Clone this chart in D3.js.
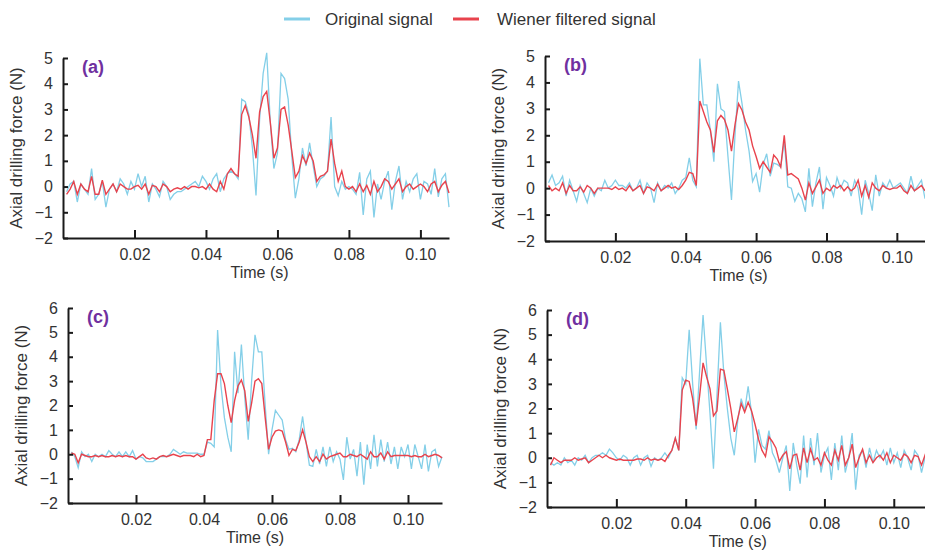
<!DOCTYPE html>
<html>
<head>
<meta charset="utf-8">
<script src="https://cdn.jsdelivr.net/npm/d3@7"></script>
<style>
  body { margin: 0; background: #fff; }
  svg { display: block; font-family: "Liberation Sans", Arial, sans-serif; }
  .axis path, .axis line { stroke: #1a1a1a; }
  .axis text { fill: #333; font-size: 16px; }
</style>
</head>
<body>
<svg id="chart" width="925" height="551"></svg>
<script>
// samples every 1 ms, first sample at 1 ms
var timeStep = 0.001;

var xTicks = [0.02, 0.04, 0.06, 0.08, 0.10];
var yTicksAB = [-2, -1, 0, 1, 2, 3, 4, 5];
var yTicksCD = [-2, -1, 0, 1, 2, 3, 4, 5, 6];
var panelLabels = ['(a)', '(b)', '(c)', '(d)'];
var legendLabels = ['Original signal', 'Wiener filtered signal'];

var originalA = [-0.2, 0.1, 0.2, -0.6, 0.1, -0.1, -0.3, 0.7, -0.5, -0.3,
    0.2, -0.8, -0.1, 0.1, -0.2, 0.3, 0.1, -0.3, 0.2, -0.1,
    0.5, 0.0, 0.4, -0.6, 0.1, -0.1, -0.4, 0.2, 0.0, -0.5,
    -0.3, -0.2, -0.2, -0.1, 0.0, 0.1, 0.2, 0.0, 0.4, 0.2,
    -0.1, 0.3, 0.5, -0.2, 0.3, 0.5, 0.6, 0.5, 0.3, 3.4,
    3.3, 2.8, 1.5, -0.35, 2.6, 4.4, 5.2, 2.5, 0.7, 1.3,
    4.4, 4.2, 3.4, 1.2, -0.45, 0.3, 1.5, 0.8, 1.7, 0.8,
    0.0, 0.3, 0.4, 0.6, 2.7, 0.0, -0.35, 0.2, -0.1, 0.0,
    -0.1, -0.3, 0.55, -1.1, 0.3, 0.6, -1.2, 0.1, -0.5, 0.2,
    0.6, -0.9, 0.2, 0.8, -0.5, 0.2, -0.2, 0.3, 0.5, -0.5,
    0.2, 0.1, -0.3, 0.7, -0.4, 0.3, 0.5, -0.8];
var filteredA = [-0.3, -0.1, 0.2, -0.3, 0.1, -0.1, -0.2, 0.4, -0.3, -0.3,
    0.25, -0.3, -0.1, 0.1, -0.2, 0.1, 0.0, -0.1, -0.1, 0.0,
    0.05, -0.1, 0.1, -0.3, 0.05, 0.0, -0.2, 0.1, 0.0, -0.2,
    -0.1, -0.05, -0.1, 0.0, -0.1, 0.0, 0.0, -0.05, 0.0, -0.1,
    0.1, -0.1, -0.2, 0.2, -0.1, 0.5, 0.7, 0.5, 0.4, 2.8,
    3.15, 2.7, 2.0, 1.1, 2.9, 3.5, 3.7, 2.5, 1.1, 1.5,
    3.0, 3.1, 2.4, 1.4, 0.35, 0.6, 1.2, 0.9, 1.3, 1.0,
    0.2, 0.4, 0.45, 0.6, 1.85, 0.9, 0.2, 0.6, 0.0, -0.1,
    0.0, -0.2, 0.1, -0.2, 0.05, -0.3, 0.2, -0.2, 0.0, 0.3,
    0.2, -0.1, 0.1, 0.3, -0.2, 0.0, 0.1, -0.1, 0.0, 0.1,
    0.0, -0.2, 0.1, 0.2, -0.2, 0.05, 0.2, -0.25];

var originalB = [0.2, 0.5, 0.1, 0.2, 0.45, -0.3, 0.3, -0.1, -0.5, 0.1,
    -0.2, -0.55, 0.0, -0.3, 0.0, -0.1, 0.3, 0.0, 0.1, 0.3,
    0.1, 0.1, 0.0, 0.2, -0.1, 0.0, 0.3, -0.2, 0.2, 0.0,
    -0.55, 0.2, -0.1, 0.1, 0.0, 0.2, -0.2, 0.0, 0.3, 0.4,
    1.15, 0.3, 0.05, 4.9, 3.15, 3.15, 2.2, 1.0, 3.95, 3.0,
    2.9, 1.2, -0.45, 2.0, 4.05, 3.2, 2.2, 1.4, 0.25, 0.55,
    -0.15, 0.9, 1.3, 0.45, 0.95, 0.9, 0.8, 1.8, 0.05, 0.0,
    -0.5, -0.2, -0.4, -0.9, 0.75, -0.7, 0.2, 0.8, -0.8, 0.4,
    0.1, -0.3, 0.4, 0.0, 0.3, 0.2, -0.3, 0.3, 0.0, -1.0,
    0.3, -0.2, -0.85, 0.5, -0.3, 0.2, 0.0, 0.3, 0.0, 0.1,
    0.2, 0.0, -0.2, 0.45, -0.1, 0.1, 0.3, -0.4];
var filteredB = [0.1, -0.1, 0.0, -0.1, 0.2, -0.2, 0.1, -0.1, -0.1, 0.05,
    -0.15, 0.1, 0.0, -0.2, 0.0, 0.0, 0.0, 0.0, -0.05, 0.05,
    -0.05, 0.0, -0.1, 0.1, -0.1, 0.0, 0.1, -0.2, 0.05, 0.0,
    -0.1, 0.15, -0.1, 0.0, 0.1, 0.0, 0.05, -0.05, 0.1, 0.3,
    0.6, 0.55, 0.1, 3.3, 2.9, 2.5, 2.2, 1.35, 2.55, 2.75,
    2.6, 2.2, 1.4, 2.4, 3.2, 2.95, 2.5, 2.2, 1.6, 1.2,
    0.75, 1.0, 0.8, 0.6, 1.25, 1.1, 0.8, 2.0, 0.5, 0.55,
    0.45, 0.35, 0.0, -0.45, 0.2, -0.2, 0.05, 0.3, -0.2, 0.0,
    -0.1, 0.1, 0.0, 0.1, -0.1, 0.05, -0.1, 0.0, 0.3, -0.3,
    0.1, -0.35, 0.2, 0.0, -0.1, 0.1, 0.0, -0.05, 0.0, 0.0,
    0.1, -0.1, -0.2, 0.1, -0.1, 0.0, 0.1, -0.1];

var originalC = [0.1, -0.1, -0.55, 0.1, -0.1, 0.0, -0.3, 0.0, -0.1, 0.0,
    -0.1, 0.15, 0.0, -0.1, 0.1, -0.1, 0.1, -0.1, 0.15, -0.2,
    -0.1, -0.15, -0.3, -0.3, -0.3, -0.2, -0.1, -0.1, -0.1, 0.0,
    0.2, 0.1, 0.0, 0.1, 0.05, 0.05, 0.05, 0.05, 0.0, 0.0,
    0.5, 0.45, 0.3, 5.1, 2.8, 1.5, 0.7, 0.1, 4.2, 2.5,
    4.5, 2.3, 0.6, 3.0, 4.9, 4.2, 4.2, 2.0, 0.0, 1.0,
    1.8, 1.6, 1.4, 0.6, 0.2, 0.25, 0.1, 0.6, 1.55, 0.5,
    -0.45, -0.5, 0.2, -0.4, 0.3, -0.5, 0.3, -0.3, 0.1, -0.2,
    -1.05, 0.7, -0.2, 0.2, -0.9, 0.5, -1.25, 0.4, -0.6, 0.8,
    -0.5, 0.6, -0.3, 0.5, -0.4, 0.3, -0.6, 0.3, -0.1, 0.4,
    -0.6, 0.4, -0.1, -0.6, 0.4, -0.7, 0.1, 0.2, -0.5, -0.1];
var filteredC = [0.05, 0.0, -0.35, 0.0, -0.05, -0.1, -0.1, -0.05, -0.1, -0.05,
    -0.1, -0.1, -0.05, -0.1, -0.05, -0.1, -0.05, -0.1, -0.1, -0.2,
    -0.1, 0.0, -0.15, -0.2, -0.15, -0.2, -0.1, -0.05, -0.1, -0.05,
    0.0, -0.05, -0.1, -0.05, -0.05, -0.05, -0.1, 0.0, -0.1, -0.05,
    0.6, 0.6, 2.2, 3.3, 3.3, 2.9, 2.0, 1.3, 2.2, 2.8,
    3.05, 2.6, 1.35, 2.1, 3.0, 3.1, 2.9, 1.5, 0.2, 0.7,
    0.95, 1.0, 0.95, 0.5, -0.05, 0.2, 0.15, 0.5, 1.0, 0.5,
    -0.1, -0.3, -0.1, -0.3, 0.0, -0.2, -0.1, -0.05, 0.0, 0.05,
    -0.1, -0.1, 0.0, -0.05, -0.1, 0.0, -0.1, -0.2, 0.1, -0.1,
    -0.1, 0.05, -0.2, 0.1, -0.1, -0.05, -0.05, -0.05, -0.05, -0.05,
    -0.1, -0.05, -0.1, -0.1, 0.0, -0.1, -0.05, 0.0, -0.05, -0.15];

var originalD = [-0.2, -0.3, -0.2, -0.3, 0.0, -0.2, -0.1, -0.3, 0.0, -0.1,
    0.1, -0.2, 0.0, 0.1, 0.1, 0.2, 0.1, 0.35, 0.2, 0.0,
    -0.1, 0.1, 0.0, -0.3, 0.0, 0.1, -0.3, 0.0, 0.1, -0.35,
    0.0, -0.1, 0.0, 0.2, 0.0, 0.3, 0.8, 0.3, 3.25, 3.0,
    5.2, 3.0, 1.15, 3.5, 5.8, 3.8, 1.8, -0.45, 2.5, 5.5,
    3.4, 2.0, 0.8, 0.1, 1.5, 2.4, 1.9, 2.9, 1.8, -0.2,
    1.15, 0.5, 0.35, 1.1, 0.2, -0.1, -0.6, 0.0, 0.5, -1.35,
    0.6, -0.3, -1.05, 0.9, -0.8, 0.8, -0.3, 1.0, -0.6, 0.1,
    0.4, -0.9, 0.6, -0.5, 0.9, -0.6, 0.0, 1.0, -1.3, 0.1,
    0.3, -0.4, 0.4, -0.2, 0.3, 0.0, 0.3, -0.3, 0.4, -0.2,
    0.2, -0.4, 0.3, 0.0, -0.5, 0.3, 0.1, -0.6, 0.0, -0.3];
var filteredD = [-0.3, 0.0, -0.1, -0.2, -0.1, -0.1, -0.1, 0.0, -0.1, -0.05,
    0.0, -0.2, -0.1, 0.0, 0.1, 0.0, 0.1, 0.0, -0.05, -0.1,
    -0.05, -0.1, -0.1, -0.1, -0.1, -0.05, -0.05, -0.1, 0.0, -0.1,
    -0.05, -0.1, -0.05, -0.15, 0.1, 0.3, 0.8, 0.3, 2.75, 3.15,
    3.1, 2.4, 1.3, 2.5, 3.85, 3.3, 2.8, 1.7, 1.9, 3.6,
    3.55, 2.8, 2.0, 1.05, 1.6, 2.2, 1.85, 2.25, 1.9, 1.35,
    0.75, 0.3, 0.05, 0.85, 0.65, 0.4, -0.15, 0.1, 0.25, -0.45,
    0.1, 0.15, -0.5, 0.4, -0.2, 0.35, -0.1, 0.0, -0.3, 0.2,
    -0.1, -0.3, 0.3, -0.1, 0.5, -0.3, 0.0, 0.55, -0.4, 0.0,
    0.35, -0.2, 0.1, -0.2, 0.0, 0.1, -0.1, 0.2, -0.2, 0.1,
    0.0, -0.1, 0.15, 0.05, -0.2, 0.1, 0.05, -0.3, 0.1, -0.25];

var blue = '#84cfe8';
var red = '#e8434d';

var panels = [
    { label: panelLabels[0], original: originalA, filtered: filteredA, yTicks: yTicksAB, tMax: 0.108, left: 63,  right: 449, top: 58,  bottom: 238 },
    { label: panelLabels[1], original: originalB, filtered: filteredB, yTicks: yTicksAB, tMax: 0.108, left: 545, right: 925, top: 56,  bottom: 241 },
    { label: panelLabels[2], original: originalC, filtered: filteredC, yTicks: yTicksCD, tMax: 0.110, left: 68,  right: 442, top: 308, bottom: 503 },
    { label: panelLabels[3], original: originalD, filtered: filteredD, yTicks: yTicksCD, tMax: 0.109, left: 547, right: 925, top: 310, bottom: 507 }
];

var svg = d3.select('#chart');

function drawPanel(p) {
    var yMin = d3.min(p.yTicks), yMax = d3.max(p.yTicks);

    var scaleX = d3.scaleLinear().domain([0, p.tMax]).range([p.left, p.right]);
    var scaleY = d3.scaleLinear().domain([yMin, yMax]).range([p.bottom, p.top]);

    var line = d3.line()
        .x(function (d, i) { return scaleX((i + 1) * timeStep); })
        .y(function (d) { return scaleY(d); });

    var g = svg.append('g');

    g.append('path')
        .datum(p.original)
        .attr('d', line)
        .attr('fill', 'none')
        .attr('stroke', blue)
        .attr('stroke-width', 1.3);

    g.append('path')
        .datum(p.filtered)
        .attr('d', line)
        .attr('fill', 'none')
        .attr('stroke', red)
        .attr('stroke-width', 1.4);

    var xAxis = g.append('g')
        .attr('class', 'axis')
        .attr('transform', 'translate(0,' + p.bottom + ')')
        .call(d3.axisBottom(scaleX).tickValues(xTicks).tickFormat(d3.format('.2f'))
            .tickSizeInner(-8).tickSizeOuter(0).tickPadding(11));
    xAxis.select('.domain').attr('stroke-width', 2);
    xAxis.selectAll('.tick line').attr('stroke-width', 2);

    var yAxis = g.append('g')
        .attr('class', 'axis')
        .attr('transform', 'translate(' + p.left + ',0)')
        .call(d3.axisLeft(scaleY).tickValues(p.yTicks).tickFormat(d3.format('d'))
            .tickSizeInner(-5).tickSizeOuter(0).tickPadding(10));
    yAxis.select('.domain').attr('stroke-width', 2);
    yAxis.selectAll('.tick line').attr('stroke-width', 2);

    g.append('text')
        .attr('text-anchor', 'middle')
        .attr('fill', '#333')
        .attr('font-size', 17)
        .attr('transform', 'translate(' + (p.left - 41) + ',' + ((p.top + p.bottom) / 2) + ')rotate(-90)')
        .text('Axial drilling force (N)');

    g.append('text')
        .attr('text-anchor', 'middle')
        .attr('fill', '#333')
        .attr('font-size', 16)
        .attr('x', scaleX(0.055))
        .attr('y', p.bottom + 40)
        .text('Time (s)');

    g.append('text')
        .attr('x', p.left + 19)
        .attr('y', p.top + 15)
        .attr('fill', '#7030a0')
        .attr('font-size', 18)
        .attr('font-weight', 'bold')
        .text(p.label);
}

panels.forEach(drawPanel);

// legend
var legend = svg.append('g').attr('transform', 'translate(284,19)');
[blue, red].forEach(function (c, i) {
    var ox = i === 0 ? 0 : 169;
    legend.append('line')
        .attr('x1', ox).attr('x2', ox + 26)
        .attr('y1', 0).attr('y2', 0)
        .attr('stroke', c).attr('stroke-width', 3);
    legend.append('text')
        .attr('x', i === 0 ? ox + 41 : ox + 44).attr('y', 6)
        .attr('fill', '#333')
        .attr('font-size', 17)
        .text(legendLabels[i]);
});
</script>
</body>
</html>
